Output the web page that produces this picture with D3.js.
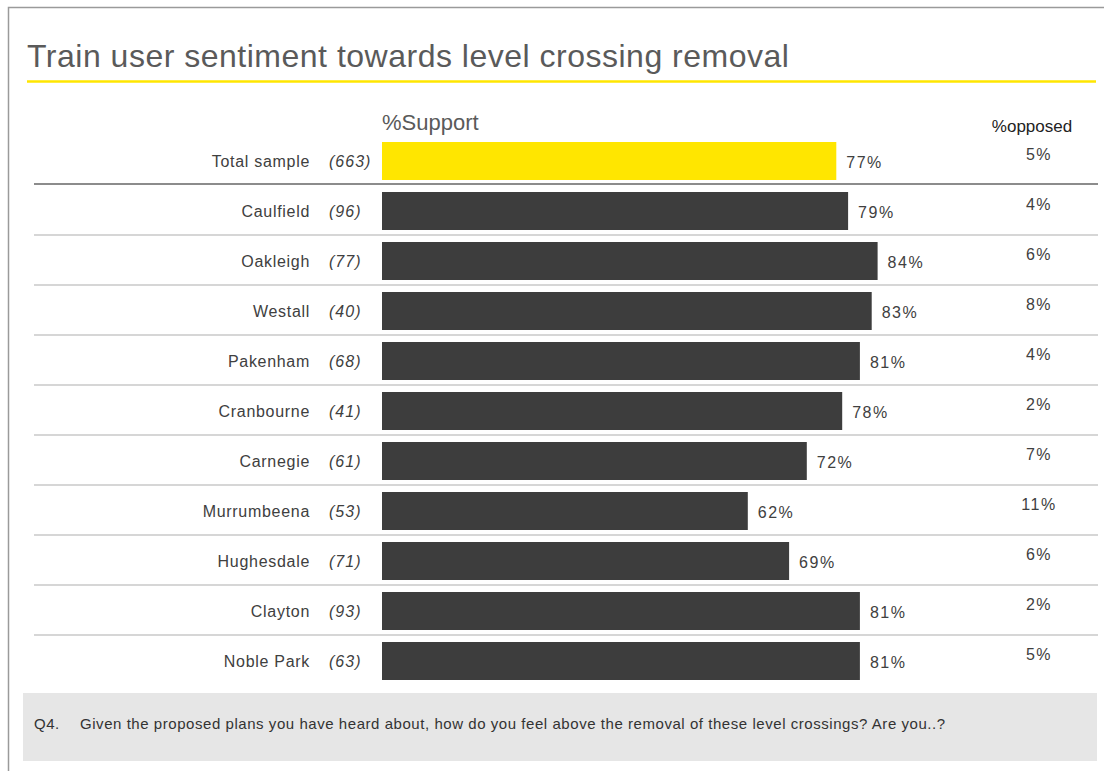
<!DOCTYPE html>
<html>
<head>
<meta charset="utf-8">
<script src="https://cdn.jsdelivr.net/npm/d3@7"></script>
<style>
  html, body { margin: 0; padding: 0; background: #fff; }
  svg { display: block; font-family: "Liberation Sans", Arial, sans-serif; }
</style>
</head>
<body>
<svg id="chart" width="1104" height="771"></svg>
<script>
// Survey groups, sample sizes, % support and % opposed
const groups   = ["Total sample", "Caulfield", "Oakleigh", "Westall", "Pakenham", "Cranbourne",
                  "Carnegie", "Murrumbeena", "Hughesdale", "Clayton", "Noble Park"];
const samples  = [663, 96, 77, 40, 68, 41, 61, 53, 71, 93, 63];
const support  = [77, 79, 84, 83, 81, 78, 72, 62, 69, 81, 81];
const opposed  = [5, 4, 6, 8, 4, 2, 7, 11, 6, 2, 5];

const titleText = "Train user sentiment towards level crossing removal";
const supportHeader = "%Support";
const opposedHeader = "%opposed";
const questionNo = "Q4.";
const questionText = "Given the proposed plans you have heard about, how do you feel above the removal of these level crossings? Are you..?";

const svg = d3.select("#chart");
const rows = groups.map((g, i) => ({ group: g, n: samples[i], support: support[i], opposed: opposed[i], i }));

// outer frame (right and bottom edges run off the page)
svg.append("rect")
  .attr("x", 8.5).attr("y", 7.5).attr("width", 1110).attr("height", 780)
  .attr("fill", "none").attr("stroke", "#9a9a9a").attr("stroke-width", 1.5);

// title + yellow rule
svg.append("text")
  .attr("x", 27).attr("y", 67)
  .attr("font-size", 32).attr("fill", "#5a5a5a").attr("letter-spacing", 0.5)
  .text(titleText);
svg.append("line")
  .attr("x1", 27).attr("x2", 1096).attr("y1", 81.5).attr("y2", 81.5)
  .attr("stroke", "#ffe600").attr("stroke-width", 2.5);

// scales
const x = d3.scaleLinear().domain([0, 100]).range([382, 972]);
const y = d3.scaleBand().domain(groups).range([142, 680]).paddingInner(0.24).paddingOuter(0).align(0);
const bh = y.bandwidth();

// column headers
svg.append("text").attr("x", 382).attr("y", 130)
  .attr("font-size", 22).attr("fill", "#5a5a5a").text(supportHeader);
svg.append("text").attr("x", 1032).attr("y", 132).attr("text-anchor", "middle")
  .attr("font-size", 17).attr("fill", "#222").text(opposedHeader);

// row separators
const sep = svg.append("g");
rows.slice(0, -1).forEach(d => {
  const yy = y(d.group) + bh + (d.i === 0 ? 4 : 5);
  sep.append("line")
    .attr("x1", 34).attr("x2", 1098).attr("y1", yy).attr("y2", yy)
    .attr("stroke", d.i === 0 ? "#8c8c8c" : "#c8c8c8")
    .attr("stroke-width", d.i === 0 ? 2 : 1.6);
});

// bars
svg.append("g").selectAll("rect").data(rows).join("rect")
  .attr("x", x(0))
  .attr("y", d => y(d.group))
  .attr("width", d => x(d.support) - x(0))
  .attr("height", bh)
  .attr("fill", d => d.i === 0 ? "#ffe600" : "#3d3d3d");

// category labels and sample sizes
const lab = svg.append("g");
lab.selectAll("text.cat").data(rows).join("text").attr("class", "cat")
  .attr("x", 310).attr("y", d => y(d.group) + 25)
  .attr("text-anchor", "end").attr("font-size", 16).attr("fill", "#404040")
  .attr("letter-spacing", 0.7)
  .text(d => d.group);
lab.selectAll("text.n").data(rows).join("text").attr("class", "n")
  .attr("x", 329).attr("y", d => y(d.group) + 25)
  .attr("font-size", 16).attr("font-style", "italic")
  .attr("fill", "#404040").attr("letter-spacing", 1)
  .text(d => `(${d.n})`);

// support value labels
svg.append("g").selectAll("text").data(rows).join("text")
  .attr("x", d => x(d.support) + 10)
  .attr("y", d => y(d.group) + 26)
  .attr("font-size", 16).attr("fill", "#404040").attr("letter-spacing", 1.5)
  .text(d => `${d.support}%`);

// opposed values
svg.append("g").selectAll("text").data(rows).join("text")
  .attr("x", 1039)
  .attr("y", d => y(d.group) + 18)
  .attr("text-anchor", "middle")
  .attr("font-size", 16).attr("fill", "#404040").attr("letter-spacing", 1.5)
  .text(d => `${d.opposed}%`);

// question footer
svg.append("rect").attr("x", 23).attr("y", 693).attr("width", 1074).attr("height", 68)
  .attr("fill", "#e6e6e6");
svg.append("text").attr("x", 34).attr("y", 729)
  .attr("font-size", 15).attr("fill", "#333").attr("letter-spacing", 0.55).text(questionNo);
svg.append("text").attr("x", 80).attr("y", 729)
  .attr("font-size", 15).attr("fill", "#333").attr("letter-spacing", 0.55).text(questionText);
</script>
</body>
</html>
